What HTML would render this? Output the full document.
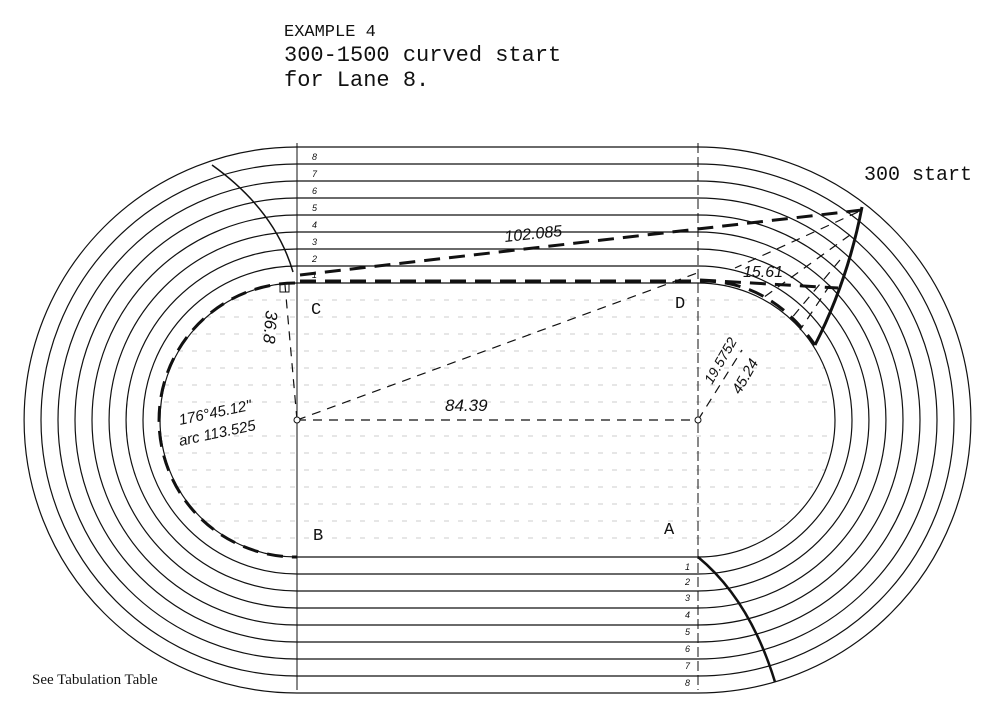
<!DOCTYPE html>
<html><head><style>
body{margin:0;background:#fff;}
svg{display:block;}
.m{font-family:"Liberation Mono",monospace;fill:#111;}
.h{font-family:"Liberation Sans",sans-serif;font-style:italic;fill:#111;}
</style></head><body>
<svg width="1000" height="705" viewBox="0 0 1000 705" xmlns="http://www.w3.org/2000/svg">
<defs><clipPath id="inf"><path d="M297,283 H698 A137,137 0 0 1 698,557 H297 A137,137 0 0 1 297,283Z"/></clipPath></defs>
<g clip-path="url(#inf)" stroke="#ccc" stroke-width="1" stroke-dasharray="5,9">
<line x1="150" y1="300" x2="850" y2="300"/><line x1="150" y1="317" x2="850" y2="317"/><line x1="150" y1="334" x2="850" y2="334"/><line x1="150" y1="351" x2="850" y2="351"/><line x1="150" y1="368" x2="850" y2="368"/><line x1="150" y1="385" x2="850" y2="385"/><line x1="150" y1="402" x2="850" y2="402"/><line x1="150" y1="436" x2="850" y2="436"/><line x1="150" y1="453" x2="850" y2="453"/><line x1="150" y1="470" x2="850" y2="470"/><line x1="150" y1="487" x2="850" y2="487"/><line x1="150" y1="504" x2="850" y2="504"/><line x1="150" y1="521" x2="850" y2="521"/><line x1="150" y1="538" x2="850" y2="538"/>
</g>
<g fill="none" stroke="#111" stroke-width="1.2">
<path d="M297,283 H698 A137,137 0 0 1 698,557 H297 A137,137 0 0 1 297,283Z"/>
<path d="M297,266 H698 A154,154 0 0 1 698,574 H297 A154,154 0 0 1 297,266Z"/>
<path d="M297,249 H698 A171,171 0 0 1 698,591 H297 A171,171 0 0 1 297,249Z"/>
<path d="M297,232 H698 A188,188 0 0 1 698,608 H297 A188,188 0 0 1 297,232Z"/>
<path d="M297,215 H698 A205,205 0 0 1 698,625 H297 A205,205 0 0 1 297,215Z"/>
<path d="M297,198 H698 A222,222 0 0 1 698,642 H297 A222,222 0 0 1 297,198Z"/>
<path d="M297,181 H698 A239,239 0 0 1 698,659 H297 A239,239 0 0 1 297,181Z"/>
<path d="M297,164 H698 A256,256 0 0 1 698,676 H297 A256,256 0 0 1 297,164Z"/>
<path d="M297,147 H698 A273,273 0 0 1 698,693 H297 A273,273 0 0 1 297,147Z"/>
<line x1="297" y1="143" x2="297" y2="690" stroke-width="1"/>
<line x1="698" y1="143" x2="698" y2="690" stroke-width="1" stroke-dasharray="10,4"/>
<path d="M212,165 Q275,210 293,272" stroke-width="1.5"/>
<path d="M815,345 Q848,280 862,207" stroke-width="3"/>
<path d="M698,557 Q750,600 775,682" stroke-width="2.5"/>
</g>
<g fill="none" stroke="#111" stroke-width="3" stroke-dasharray="16,9">
<line x1="300" y1="275" x2="862" y2="210"/>
<path d="M300,281 H700 Q770,280 815,345"/>
<line x1="700" y1="280" x2="838" y2="288"/>
<path d="M295,283 A137,137 0 0 0 297,557"/>
</g>
<g fill="none" stroke="#111" stroke-width="1.2" stroke-dasharray="9,7">
<line x1="297" y1="420" x2="698" y2="420"/>
<line x1="297" y1="420" x2="700" y2="272"/>
<line x1="698" y1="420" x2="742" y2="350"/>
<line x1="297" y1="420" x2="285" y2="285"/>
<line x1="858" y1="212" x2="735" y2="268"/>
<line x1="850" y1="235" x2="760" y2="300"/>
<line x1="840" y1="260" x2="790" y2="320"/>
<line x1="830" y1="285" x2="800" y2="330"/>
</g>
<circle cx="297" cy="420" r="3" fill="#fff" stroke="#111"/>
<circle cx="698" cy="420" r="3" fill="#fff" stroke="#111"/>
<rect x="280" y="283" width="9" height="9" fill="none" stroke="#111"/>
<text class="m" x="284" y="36" style="font-size:17px">EXAMPLE 4</text>
<text class="m" x="284" y="61" style="font-size:22px">300-1500 curved start</text>
<text class="m" x="284" y="86" style="font-size:22px">for Lane 8.</text>
<text class="m" x="864" y="180" style="font-size:20px">300 start</text>
<text class="m" x="311" y="314" style="font-size:17px">C</text>
<text class="m" x="675" y="308" style="font-size:17px">D</text>
<text class="m" x="313" y="540" style="font-size:17px">B</text>
<text class="m" x="664" y="534" style="font-size:17px">A</text>
<g class="h" font-size="9">
<text x="312" y="160">8</text><text x="312" y="177">7</text><text x="312" y="194">6</text><text x="312" y="211">5</text><text x="312" y="228">4</text><text x="312" y="245">3</text><text x="312" y="262">2</text><text x="312" y="278">1</text>
<text x="685" y="570">1</text><text x="685" y="585">2</text><text x="685" y="601">3</text><text x="685" y="618">4</text><text x="685" y="635">5</text><text x="685" y="652">6</text><text x="685" y="669">7</text><text x="685" y="686">8</text>
</g>
<text class="h" x="505" y="242" font-size="16" transform="rotate(-6 505 242)">102.085</text>
<text class="h" x="743" y="277" font-size="16">15.61</text>
<text class="h" x="445" y="411" font-size="17">84.39</text>
<text class="h" x="266" y="310" font-size="17" transform="rotate(95 266 310)">36.8</text>
<text class="h" x="180" y="425" font-size="15" transform="rotate(-12 180 425)">176°45.12"</text>
<text class="h" x="180" y="446" font-size="15" transform="rotate(-12 180 446)">arc 113.525</text>
<text class="h" x="712" y="385" font-size="14" transform="rotate(-60 712 385)">19.5752</text>
<text class="h" x="740" y="395" font-size="15" transform="rotate(-60 740 395)">45.24</text>
<text x="32" y="684" font-family="Liberation Serif,serif" font-size="15" fill="#111">See Tabulation Table</text>
</svg>
</body></html>
